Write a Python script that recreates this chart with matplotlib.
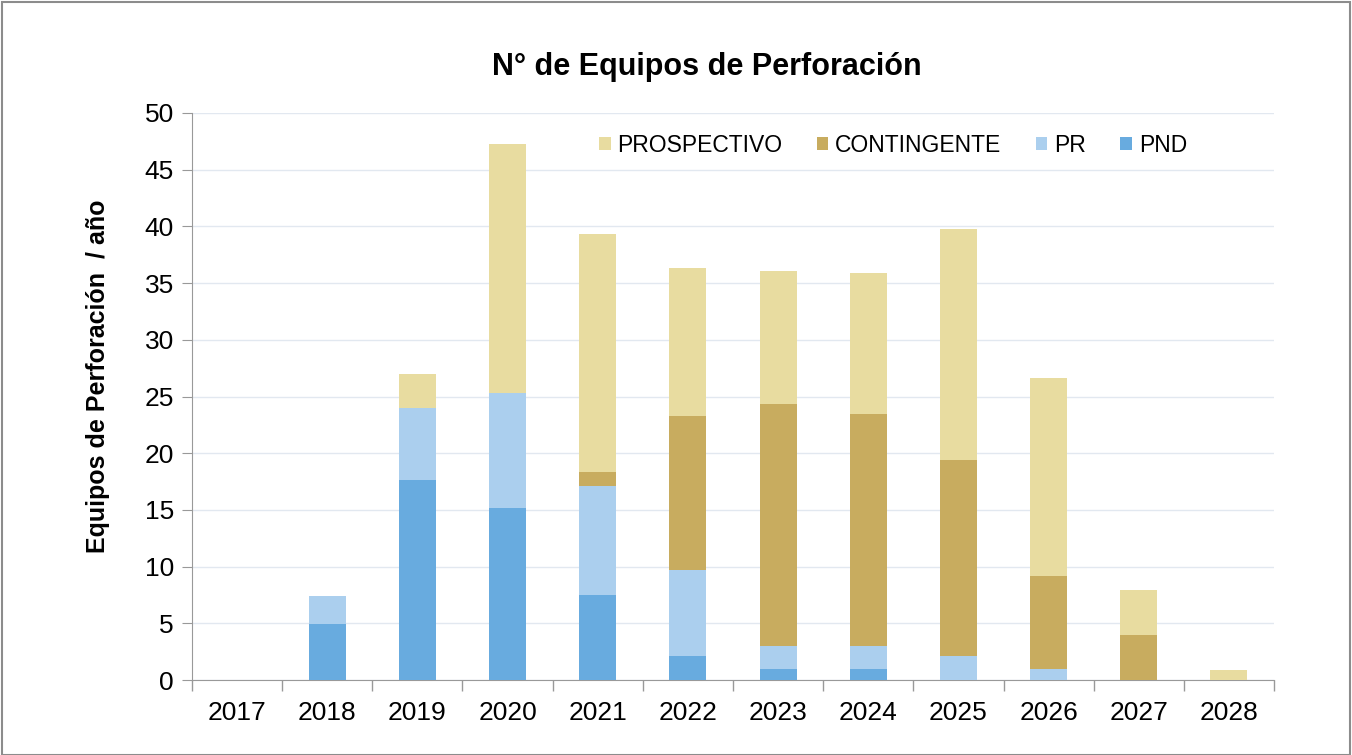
import matplotlib.pyplot as plt
import numpy as np
from matplotlib.patches import Rectangle

plt.rcParams['font.family'] = ['Liberation Sans', 'DejaVu Sans']

years = ["2017", "2018", "2019", "2020", "2021", "2022", "2023", "2024", "2025", "2026", "2027", "2028"]
pnd = np.array([0, 4.9, 17.6, 15.2, 7.5, 2.1, 1.0, 1.0, 0, 0, 0, 0])
pr = np.array([0, 2.5, 6.4, 10.1, 9.6, 7.6, 2.0, 2.0, 2.1, 1.0, 0, 0])
contingente = np.array([0, 0, 0, 0, 1.2, 13.6, 21.3, 20.5, 17.3, 8.2, 4.0, 0])
prospectivo = np.array([0, 0, 3.0, 22.0, 21.0, 13.0, 11.8, 12.4, 20.4, 17.4, 3.9, 0.9])

c_pnd = "#68abdf"
c_pr = "#abcfee"
c_cont = "#c8ac5f"
c_pros = "#e8dca0"

fig = plt.figure(figsize=(13.52, 7.55), dpi=100)
ax = fig.add_axes([192 / 1352, 1 - 680 / 755, 1082 / 1352, 567 / 755])

x = np.arange(len(years))
w = 0.41
ax.bar(x, pnd, w, color=c_pnd, label="PND", zorder=3)
ax.bar(x, pr, w, bottom=pnd, color=c_pr, label="PR", zorder=3)
ax.bar(x, contingente, w, bottom=pnd + pr, color=c_cont, label="CONTINGENTE", zorder=3)
ax.bar(x, prospectivo, w, bottom=pnd + pr + contingente, color=c_pros, label="PROSPECTIVO", zorder=3)

ax.set_xlim(-0.5, len(years) - 0.5)
ax.set_ylim(0, 50)
ax.set_yticks(np.arange(0, 51, 5))
ax.set_xticks(x)
ax.set_xticklabels(years)
ax.set_xticks(np.arange(-0.5, len(years)), minor=True)
ax.tick_params(axis='x', which='major', length=0, labelsize=19, pad=15)
ax.tick_params(axis='x', which='minor', length=8, color="#999999", width=1)
ax.tick_params(axis='y', length=7, color="#999999", labelsize=19, pad=6)
ax.grid(axis='y', color="#e2e8f0", linewidth=1, zorder=0)

for s in ['top', 'right']:
    ax.spines[s].set_visible(False)
for s in ['left', 'bottom']:
    ax.spines[s].set_color("#999999")

ax.set_ylabel("Equipos de Perforación  / año", fontsize=18, fontweight='bold')
ax.yaxis.set_label_coords(-0.0757, 0.535)
fig.text(0.523, 1 - 67 / 755, "N° de Equipos de Perforación", ha='center', va='center',
         fontsize=22, fontweight='bold')

h, l = ax.get_legend_handles_labels()
ax.legend(h[::-1], l[::-1], ncol=4, frameon=False, fontsize=16.5,
          loc='center', bbox_to_anchor=((893 - 192) / 1082, (680 - 145) / 567),
          handlelength=0.5, handleheight=0.5, handletextpad=0.3, columnspacing=1.5)

fig.patches.append(Rectangle((0.0015, 0.0), 0.997, 0.997, transform=fig.transFigure,
                             fill=False, edgecolor="#8c8c8c", linewidth=1.5))

fig.savefig("out.png", dpi=100)
